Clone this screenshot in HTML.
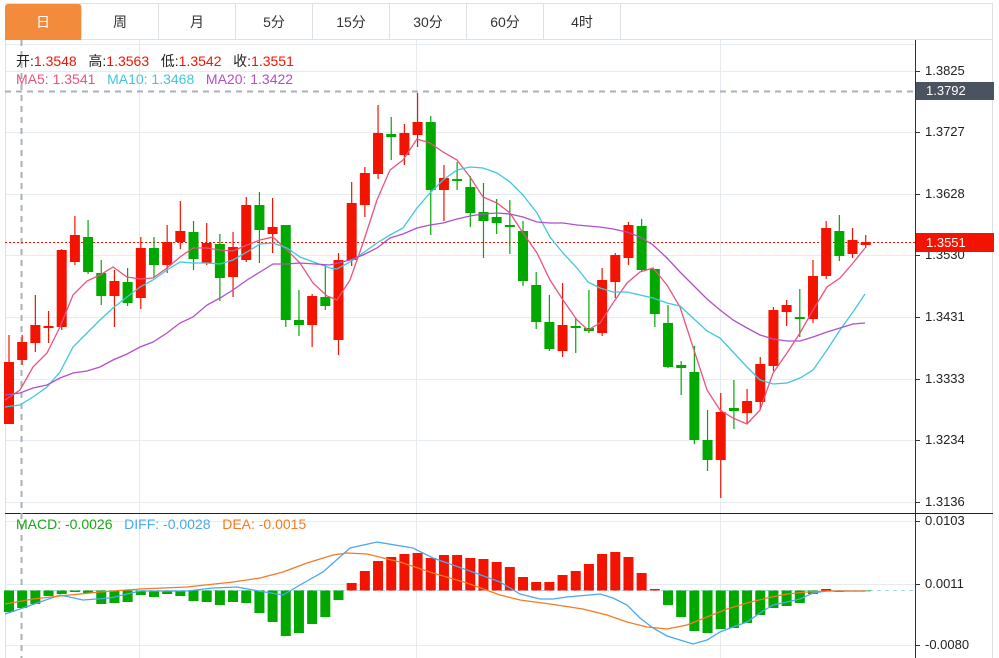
<!DOCTYPE html>
<html><head><meta charset="utf-8">
<style>
body{margin:0;background:#fff;width:999px;height:658px;overflow:hidden;font-family:"Liberation Sans","Noto Sans CJK SC",sans-serif;}
.tabs{position:absolute;left:5px;top:3px;height:37px;width:988px;border:1px solid #dde1e6;border-left:none;box-sizing:border-box;}
.tab{position:absolute;top:0;height:36px;width:77px;border-right:1px solid #dde1e6;box-sizing:border-box;text-align:center;line-height:36px;font-size:14px;color:#333;}
.tab.on{background:#f28c3c;color:#fff;border-radius:3px 3px 0 0}
.t{position:absolute;font-size:14px;white-space:nowrap}
.ax{position:absolute;left:925px;font-size:13px;color:#222}
</style></head><body>
<div class="tabs">
<div class="tab on" style="left:0">日</div>
<div class="tab" style="left:77px">周</div>
<div class="tab" style="left:154px">月</div>
<div class="tab" style="left:231px">5分</div>
<div class="tab" style="left:308px">15分</div>
<div class="tab" style="left:385px">30分</div>
<div class="tab" style="left:462px">60分</div>
<div class="tab" style="left:539px">4时</div>
</div>
<svg id="s" width="999" height="658" style="position:absolute;left:0;top:0"></svg>
<div class="t" style="left:16px;top:51px;color:#222">开:<span style="color:#f21400">1.3548</span>&nbsp;&nbsp;&nbsp;高:<span style="color:#f21400">1.3563</span>&nbsp;&nbsp;&nbsp;低:<span style="color:#f21400">1.3542</span>&nbsp;&nbsp;&nbsp;收:<span style="color:#f21400">1.3551</span></div>
<div class="t" style="left:16px;top:71px"><span style="color:#e9537f">MA5: 1.3541</span>&nbsp;&nbsp;&nbsp;<span style="color:#3fc8dc">MA10: 1.3468</span>&nbsp;&nbsp;&nbsp;<span style="color:#b050c8">MA20: 1.3422</span></div>
<div class="t" style="left:16px;top:516px"><span style="color:#1aa51a">MACD: -0.0026</span>&nbsp;&nbsp;&nbsp;<span style="color:#4aa8f0">DIFF: -0.0028</span>&nbsp;&nbsp;&nbsp;<span style="color:#f57a20">DEA: -0.0015</span></div>
<div class="ax" style="top:63px">1.3825</div>
<div class="ax" style="top:124px">1.3727</div>
<div class="ax" style="top:186px">1.3628</div>
<div class="ax" style="top:247px">1.3530</div>
<div class="ax" style="top:309px">1.3431</div>
<div class="ax" style="top:371px">1.3333</div>
<div class="ax" style="top:432px">1.3234</div>
<div class="ax" style="top:494px">1.3136</div>
<div class="ax" style="top:513px">0.0103</div>
<div class="ax" style="top:576px">0.0011</div>
<div class="ax" style="top:637px">-0.0080</div>
<div style="position:absolute;left:916px;top:82px;width:78px;height:18px;background:#4a5360;color:#fff;font-size:13px;line-height:18px;padding-left:10px;box-sizing:border-box">1.3792</div>
<div style="position:absolute;left:916px;top:233px;width:78px;height:19px;background:#f21400;color:#fff;font-size:13px;line-height:19px;padding-left:10px;box-sizing:border-box">1.3551</div>
<script>
var s=document.getElementById('s'),h='';
function L(x1,y1,x2,y2,c,w,d){h+='<line x1="'+x1+'" y1="'+y1+'" x2="'+x2+'" y2="'+y2+'" stroke="'+c+'" stroke-width="'+(w||1)+'"'+(d?' stroke-dasharray="'+d+'"':'')+'/>';}
[71,132,194,255,317,379,440,502,521,584,645,44].forEach(function(y){L(5,y+.5,915,y+.5,'#e6ebf0');});
[139,416,720].forEach(function(x){L(x+.5,40,x+.5,658,'#e6ebf0');});
L(5.5,40,5.5,658,'#dde1e6');L(992.5,40,992.5,658,'#dde1e6');
L(915.5,40,915.5,658,'#333');L(5,513.5,993,513.5,'#222');
[71,132,194,255,317,379,440,502,521,584,645].forEach(function(y){L(915,y+.5,920,y+.5,'#333');});
L(21.5,40,21.5,658,'#a8b0ba',2,'6,5');L(5,91.5,915,91.5,'#a8b0ba',2,'6,5');
L(5,242.5,915,242.5,'#f21400',1,'2,2');
L(5,590.5,915,590.5,'#a8d4f0',1,'4,4');
var C=[[362,424,335,424],[342,360,335,365],[325,343,295,352],[326,328,311,343],[250,327,249,330],[235,262,216,265],[237,272,220,274,1],[273,296,260,305,1],[281,296,270,327],[282,303,268,306,1],[248,298,237,309],[248,265,237,278,1],[242,265,225,273],[231,242,201,249],[232,259,221,270,1],[243,263,223,265],[244,278,234,301,1],[247,277,232,297],[205,260,197,262],[205,230,192,263,1],[227,234,198,253],[225,320,225,327,1],[320,325,290,336,1],[296,325,294,347],[297,306,265,310,1],[260,340,253,355],[203,260,182,266],[173,205,167,217],[133,174,105,179],[134,137,117,160,1],[133,155,124,165],[122,135,93,147],[122,190,116,235,1],[178,190,165,221],[179,181,162,190,1],[187,213,176,227,1],[212,221,183,258,1],[217,223,199,234,1],[225,227,200,254,1],[231,281,221,286,1],[285,322,272,329,1],[322,349,295,351,1],[325,351,283,357],[326,328,318,353,1],[328,331,290,333,1],[280,333,268,336],[255,282,253,298],[225,258,222,265],[226,270,219,271,1],[269,314,269,327,1],[323,367,305,368,1],[365,368,361,395,1],[372,440,346,444,1],[440,460,410,471,1],[412,460,393,498],[408,411,380,429,1],[401,413,389,423],[364,402,357,410],[310,366,307,371],[305,312,300,326],[317,319,289,337,1],[276,319,260,323],[228,276,221,279],[231,256,215,261,1],[240,254,228,258],[242,245,235,248]];
var M=[612,608,604,596,594,592,593,604,603,602,595,597,594,596,601,602,605,602,603,613,622,636,633,624,617,600,583,571,561,557,554,553,558,555,555,558,559,562,567,577,582,582,575,571,564,554,552,557,573,589,605,617,631,633,629,628,623,615,608,606,603,594,589,592,591,591];
for(var i=0;i<66;i++){var x=9+13.18*i,c=C[i],col=c[4]?'#00a800':'#f21400';
L(x,c[2],x,c[3],col,1.2);var t=Math.min(c[0],c[1]),b=Math.max(c[0],c[1]);if(b-t<2)b=t+2;
h+='<rect x="'+(x-5)+'" y="'+t+'" width="10" height="'+(b-t)+'" fill="'+col+'"/>';
var m=M[i],g=m>590.5;h+='<rect x="'+(x-5)+'" y="'+Math.min(m,590.5)+'" width="10" height="'+Math.max(Math.abs(m-590.5),0.8)+'" fill="'+(g?'#00a800':'#f21400')+'"/>';}
function P(pts,c){h+='<polyline fill="none" stroke="'+c+'" stroke-width="1.3" points="'+pts+'"/>';}
P("5,400 20,390 33,367 47,353 60,327 73,295 87,281 100,275 113,267 127,277 140,279 153,278 167,268 180,257 193,248 207,248 220,250 233,251 247,245 260,240 273,237 287,250 300,263 313,283 327,296 337,300 350,280 363,243 377,200 390,170 403,160 417,139 430,143 443,152 457,160 470,177 483,197 497,203 510,213 523,233 537,253 550,280 563,300 577,320 588,330 600,323 613,303 627,283 640,272 653,268 667,285 680,307 693,347 707,390 720,410 733,418 747,424 760,410 773,373 787,353 800,333 813,310 827,287 840,278 853,263 865,248","#e9537f");
P("5,407 20,405 33,397 47,387 60,372 73,347 87,333 100,320 113,308 127,297 140,287 153,280 167,270 180,262 193,263 207,263 220,264 233,260 247,252 260,244 273,243 287,248 300,257 330,268 337,269 350,262 363,253 377,243 390,235 403,228 417,208 430,193 443,180 457,170 470,167 483,168 497,173 510,182 523,195 537,213 550,237 563,253 577,268 588,282 600,288 613,292 627,292 640,295 653,298 667,303 680,306 693,318 707,331 720,338 733,352 747,367 760,380 773,384 787,383 800,378 813,370 827,350 840,330 853,312 865,294","#3fc8dc");
P("5,395 20,393 33,388 47,385 60,378 73,373 87,371 100,367 113,360 127,354 140,347 153,342 167,333 180,323 193,317 207,305 220,298 233,290 247,280 260,272 273,264 287,264 300,263 330,265 350,260 363,255 377,248 390,238 403,234 417,228 430,225 443,223 457,219 470,216 483,214 497,213 510,214 523,217 537,222 550,223 563,223 577,225 588,226 600,227 613,229 627,232 640,237 653,245 667,258 680,272 693,285 707,299 720,310 733,320 747,328 760,335 773,339 787,341 800,341 813,337 827,332 840,328 853,324 865,323","#b050c8");
P("5,614 20,609 60,595 83,600 110,598 140,591 187,591 213,588 237,587 253,590 283,595 300,585 323,572 350,548 377,542 413,548 433,558 467,570 500,582 520,594 540,599 553,599 567,597 600,594 613,598 627,605 640,618 653,628 667,636 680,640 693,644 707,640 720,632 733,627 747,622 760,613 773,605 787,602 800,599 813,593 827,591 865,591","#4aa8f0");
P("5,604 33,599 60,596 100,592 140,589 187,587 233,582 260,578 283,572 307,563 333,555 347,553 367,554 400,562 433,573 467,583 500,595 520,600 550,604 583,609 607,615 627,622 647,627 667,629 687,625 707,617 727,609 747,603 767,598 787,594 807,592 827,591 865,591","#f57a20");
s.innerHTML=h;
</script>
</body></html>
